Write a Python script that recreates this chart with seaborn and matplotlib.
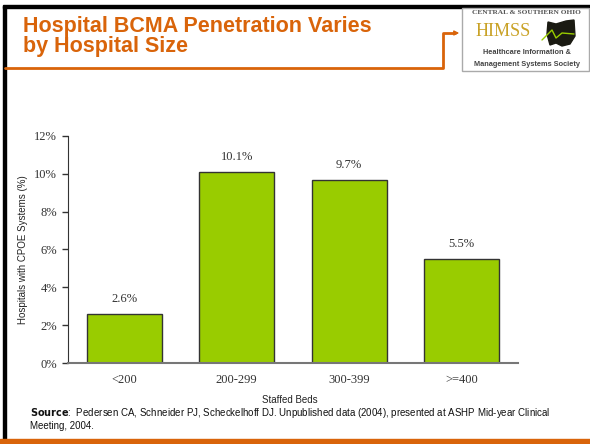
import matplotlib
matplotlib.use("Agg")
import matplotlib.pyplot as plt
import seaborn as sns
import pandas as pd
from matplotlib.patches import Rectangle, FancyArrowPatch, Polygon
from matplotlib.lines import Line2D

categories = ["<200", "200-299", "300-399", ">=400"]
values = [2.6, 10.1, 9.7, 5.5]
value_labels = ["2.6%", "10.1%", "9.7%", "5.5%"]
yticks = [0, 2, 4, 6, 8, 10, 12]
ytick_labels = ["0%", "2%", "4%", "6%", "8%", "10%", "12%"]

sns.set_style("white")
plt.rcParams['font.family'] = ['Liberation Sans', 'DejaVu Sans']

W, H = 590, 444
fig = plt.figure(figsize=(W / 100, H / 100), dpi=100)

def fx(x):
    return x / W

def fy(y):
    return 1 - y / H

orange = "#D9640A"
# slide decorations
fig.patches.append(Rectangle((fx(3), 0), fx(2.5), fy(6), transform=fig.transFigure, color="black", zorder=0))
fig.patches.append(Rectangle((fx(3), fy(8)), 1, 2.5 / H, transform=fig.transFigure, color="black", zorder=0))
fig.patches.append(Rectangle((0, 0), 1, 5 / H, transform=fig.transFigure, color=orange, zorder=0))
fig.lines.append(Line2D([fx(5), fx(443), fx(443), fx(455)], [fy(68), fy(68), fy(33), fy(33)],
                        transform=fig.transFigure, color=orange, lw=2))
fig.patches.append(FancyArrowPatch((fx(452), fy(33)), (fx(462), fy(33)), transform=fig.transFigure,
                                   arrowstyle="-|>", mutation_scale=7, color=orange, lw=1))
fig.patches.append(Rectangle((fx(462), fy(71)), fx(127), 63 / H, transform=fig.transFigure,
                             facecolor="white", edgecolor="#aaaaaa", lw=1))
fig.text(fx(526), fy(12), "CENTRAL & SOUTHERN OHIO", fontsize=5.3, color="#555555",
         va="center", ha="center", family="Liberation Serif", weight="bold")
fig.text(fx(476), fy(32), "HIMSS", fontsize=13, color="#C9A227", va="center", ha="left",
         family="Liberation Serif")
ohio = [(548, 22), (556, 24), (566, 21), (574, 20), (575, 36), (570, 44), (562, 46), (556, 43), (550, 45), (547, 34)]
fig.patches.append(Polygon([(fx(a), fy(b)) for a, b in ohio], closed=True, transform=fig.transFigure,
                           facecolor="#1a1a12", edgecolor="#1a1a12"))
fig.lines.append(Line2D([fx(542), fx(552), fx(556), fx(562), fx(574)], [fy(40), fy(30), fy(38), fy(33), fy(34)],
                        transform=fig.transFigure, color="#99CC00", lw=1))
fig.text(fx(527), fy(53), "Healthcare Information &", fontsize=5.3, color="#444444",
         va="center", ha="center", weight="bold")
fig.text(fx(527), fy(64), "Management Systems Society", fontsize=5.3, color="#444444",
         va="center", ha="center", weight="bold")

fig.text(fx(23), fy(32), "Hospital BCMA Penetration Varies", fontsize=15.5,
         weight="bold", color=orange, va="baseline", ha="left")
fig.text(fx(23), fy(52), "by Hospital Size", fontsize=15.5,
         weight="bold", color=orange, va="baseline", ha="left")

# chart
ax = fig.add_axes([fx(68), fy(363), fx(450), (363 - 136) / H])
df = pd.DataFrame({"beds": categories, "pct": values})
sns.barplot(data=df, x="beds", y="pct", color="#99CC00", saturation=1, width=0.67,
            edgecolor="#333333", linewidth=1, ax=ax, order=categories)
ax.set_xlim(-0.5, 3.5)
ax.set_ylim(0, 12)
ax.set_yticks(yticks)
ax.set_yticklabels(ytick_labels, family="Liberation Serif", fontsize=9, color="#333333")
ax.set_xticks(range(len(categories)))
ax.set_xticklabels(categories, family="Liberation Serif", fontsize=9, color="#333333")
ax.set_xticks([-0.5, 0.5, 1.5, 2.5, 3.5], minor=True)
ax.tick_params(axis="x", which="major", length=0, pad=8)
ax.tick_params(axis="x", which="minor", length=4, direction="out", color="#333333", width=1)
ax.tick_params(axis="y", length=4, direction="out", color="#333333", width=1, left=True, pad=4)
for s in ["top", "right"]:
    ax.spines[s].set_visible(False)
ax.spines["left"].set_color("#333333")
ax.spines["bottom"].set_color("#777777")
ax.spines["bottom"].set_linewidth(1.5)
ax.set_xlabel("")
ax.set_ylabel("Hospitals with CPOE Systems (%)", fontsize=7, color="#222222", labelpad=4)
for i, (v, lab) in enumerate(zip(values, value_labels)):
    ax.text(i, v + 0.45, lab, ha="center", va="bottom", family="Liberation Serif",
            fontsize=9, color="#333333")

fig.text(fx(290), fy(400), "Staffed Beds", fontsize=7, ha="center", va="center", color="#222222")
fig.text(fx(30), fy(413), r"$\bf{Source}$:  Pedersen CA, Schneider PJ, Scheckelhoff DJ. Unpublished data (2004), presented at ASHP Mid-year Clinical",
         fontsize=7, ha="left", va="center", color="#111111")
fig.text(fx(30), fy(426), "Meeting, 2004.", fontsize=7, ha="left", va="center", color="#111111")

fig.savefig("out.png", dpi=100, facecolor="white")
